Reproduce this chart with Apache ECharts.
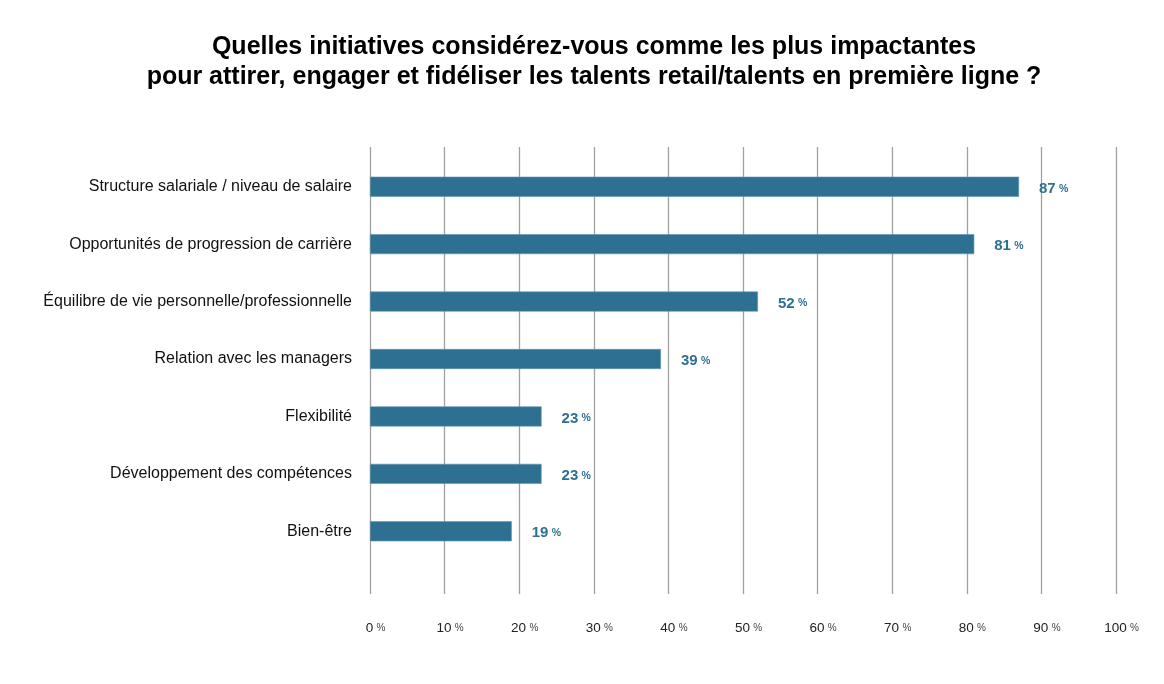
<!DOCTYPE html>
<html>
<head>
<meta charset="utf-8">
<script src="https://cdn.jsdelivr.net/npm/echarts@6/dist/echarts.min.js"></script>
<style>
  html, body { margin: 0; padding: 0; background: #fff; }
  #chart { width: 1164px; height: 684px; }
</style>
</head>
<body>
<div id="chart"></div>
<script>
// données
var categories = [
  'Structure salariale / niveau de salaire',
  'Opportunités de progression de carrière',
  'Équilibre de vie personnelle/professionnelle',
  'Relation avec les managers',
  'Flexibilité',
  'Développement des compétences',
  'Bien-être'
]
var values = [87, 81, 52, 39, 23, 23, 19]
var xTicks = [0, 10, 20, 30, 40, 50, 60, 70, 80, 90, 100]

var titleLines = [
  'Quelles initiatives considérez-vous comme les plus impactantes',
  'pour attirer, engager et fidéliser les talents retail/talents en première ligne ?'
]

var blue = '#2e7091'
var font = '"Liberation Sans", Arial, sans-serif'

var chart = echarts.init(document.getElementById('chart'))

var option = {
  backgroundColor: '#fff',
  animation: false,
  title: {
    text: titleLines.join('\n'),
    left: 589,
    textAlign: 'center',
    top: 27,
    textStyle: {
      fontFamily: font,
      fontWeight: 'bold',
      fontSize: 25,
      lineHeight: 30,
      color: '#000'
    }
  },
  grid: [
    // barres
    { left: 370, right: 48, top: 158, bottom: 124 },
    // grille + axe des x
    { left: 370, right: 48, top: 147, bottom: 90 }
  ],
  xAxis: [
    {
      gridIndex: 0, type: 'value', min: 0, max: 100, interval: 10,
      axisLine: { show: false }, axisTick: { show: false },
      axisLabel: { show: false }, splitLine: { show: false }
    },
    {
      gridIndex: 1, type: 'value', min: xTicks[0], max: xTicks[xTicks.length - 1], interval: 10,
      axisLine: { show: false }, axisTick: { show: false },
      splitLine: { show: true, lineStyle: { color: '#a0a0a0', width: 1.3 } },
      axisLabel: {
        margin: 27,
        padding: [0, 0, 0, 11],
        fontFamily: font,
        formatter: function (v) { return '{n|' + v + '} {p|%}' },
        rich: {
          n: { fontFamily: font, fontSize: 13.5, color: '#222' },
          p: { fontFamily: font, fontSize: 10, color: '#444' }
        }
      }
    }
  ],
  yAxis: [
    {
      gridIndex: 0, type: 'category', data: categories, inverse: true,
      axisLine: { show: false }, axisTick: { show: false },
      axisLabel: {
        margin: 18,
        fontFamily: font,
        fontSize: 16,
        color: '#111'
      }
    },
    {
      gridIndex: 1, type: 'value', show: false
    }
  ],
  series: [
    {
      type: 'bar',
      xAxisIndex: 0,
      yAxisIndex: 0,
      data: values,
      barWidth: 20,
      itemStyle: { color: blue, borderColor: '#5d93b0', borderWidth: 0.6 },
      label: {
        show: true,
        position: 'right',
        distance: 20,
        offset: [0, 2],
        formatter: function (p) { return '{v|' + p.value + '} {p|%}' },
        rich: {
          v: { fontFamily: font, fontSize: 15, fontWeight: 'bold', color: blue },
          p: { fontFamily: font, fontSize: 10.5, fontWeight: 'bold', color: blue }
        }
      }
    }
  ]
}

chart.setOption(option)
</script>
</body>
</html>
